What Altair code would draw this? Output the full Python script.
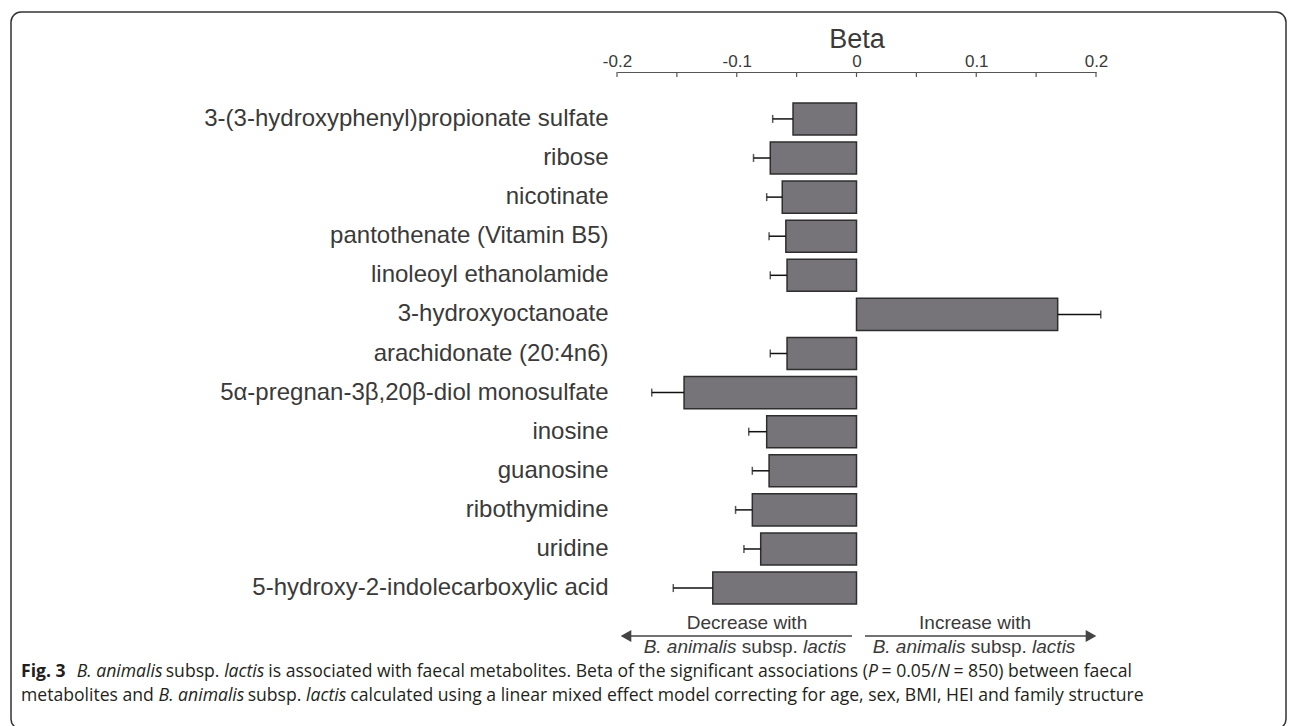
import altair as alt
import numpy as np
import pandas as pd

metabolites = [
    "3-(3-hydroxyphenyl)propionate sulfate",
    "ribose",
    "nicotinate",
    "pantothenate (Vitamin B5)",
    "linoleoyl ethanolamide",
    "3-hydroxyoctanoate",
    "arachidonate (20:4n6)",
    "5α-pregnan-3β,20β-diol monosulfate",
    "inosine",
    "guanosine",
    "ribothymidine",
    "uridine",
    "5-hydroxy-2-indolecarboxylic acid",
]
beta = [-0.053, -0.072, -0.062, -0.059, -0.058, 0.168, -0.058, -0.144, -0.075, -0.073, -0.087, -0.080, -0.120]
se = [0.017, 0.014, 0.013, 0.014, 0.014, 0.036, 0.014, 0.027, 0.015, 0.014, 0.014, 0.014, 0.033]
axis_labels = [-0.2, -0.1, 0.0, 0.1, 0.2]
axis_ticks = [-0.2, -0.15, -0.1, -0.05, 0.0, 0.05, 0.1, 0.15, 0.2]

df = pd.DataFrame({"metabolite": metabolites, "beta": beta, "se": se})
df["end"] = df["beta"] + np.sign(df["beta"]) * df["se"]
ticks_df = pd.DataFrame({"t": axis_ticks})
one = pd.DataFrame({"k": [0]})

FONT = "Liberation Sans"
CAP = "Open Sans"
TXT = "#3a3a3a"
xscale = alt.Scale(domain=[-0.2, 0.2], nice=False, zero=False)
yscale = alt.Scale(paddingInner=0.18, paddingOuter=0.79)
ysort = metabolites

xaxis = alt.Axis(orient="top", values=axis_labels, ticks=False, tickSize=0,
                 grid=False, domainColor="#555555", domainWidth=1.2,
                 labelFont=FONT, labelFontSize=17, labelColor=TXT, labelPadding=2,
                 labelExpr="datum.value == 0 ? '0' : replace(format(datum.value, '.1f'), '\u2212', '-')",
                 labelFlush=False,
                 titleFont=FONT, titleFontSize=27, titleFontWeight="normal",
                 titleColor=TXT, titleY=-25, titleBaseline="alphabetic")
yaxis = alt.Axis(domain=False, ticks=False, labelFont=FONT, labelFontSize=24,
                 labelColor=TXT, labelPadding=9, labelLimit=700)

bars = alt.Chart(df).mark_bar(
    fill="#767379", stroke="#2e2e2e", strokeWidth=1.5
).encode(
    x=alt.X("beta:Q", scale=xscale, axis=xaxis, title="Beta"),
    x2=alt.datum(0),
    y=alt.Y("metabolite:N", sort=ysort, scale=yscale, title=None, axis=yaxis),
)
err = alt.Chart(df).mark_rule(color="#111111", strokeWidth=1.5).encode(
    x=alt.X("beta:Q", scale=xscale, axis=xaxis, title="Beta"),
    x2="end:Q",
    y=alt.Y("metabolite:N", sort=ysort, scale=yscale, title=None, axis=yaxis),
)
caps = alt.Chart(df).mark_tick(color="#111111", thickness=1.5, size=8).encode(
    x=alt.X("end:Q", scale=xscale, axis=xaxis, title="Beta"),
    y=alt.Y("metabolite:N", sort=ysort, scale=yscale, title=None, axis=yaxis),
)
tickmarks = alt.Chart(ticks_df).mark_rule(color="#555555", strokeWidth=1.2).encode(
    x=alt.X("t:Q", scale=xscale, axis=xaxis, title="Beta"),
    y=alt.value(0),
    y2=alt.value(5),
)

# ---- approximate glyph advance widths (em) for placing mixed-style text runs ----
ARIAL = {" ": .278, ".": .278, ",": .278, "(": .333, ")": .333, "-": .333, "/": .278, "=": .584, ":": .278,
         "B": .667, "E": .667, "H": .722, "I": .278, "M": .833, "N": .722, "P": .667, "F": .611,
         "a": .556, "b": .556, "c": .5, "d": .556, "e": .556, "f": .278, "g": .556, "h": .556, "i": .222,
         "j": .222, "k": .5, "l": .222, "m": .833, "n": .556, "o": .556, "p": .556, "q": .556, "r": .333,
         "s": .5, "t": .278, "u": .556, "v": .5, "w": .722, "x": .5, "y": .5, "z": .5}
OPEN = {" ": .26, ".": .266, ",": .244, "(": .282, ")": .282, "-": .322, "/": .368, "=": .572, ":": .266,
        "B": .635, "E": .549, "H": .722, "I": .293, "M": .875, "N": .742, "P": .601, "F": .518,
        "a": .556, "b": .613, "c": .476, "d": .613, "e": .561, "f": .339, "g": .548, "h": .614, "i": .253,
        "j": .253, "k": .525, "l": .253, "m": .930, "n": .614, "o": .604, "p": .613, "q": .613, "r": .408,
        "s": .477, "t": .353, "u": .614, "v": .501, "w": .778, "x": .524, "y": .502, "z": .477}


def tw(s, table, size, factor=1.0):
    return sum(table.get(ch, 0.572) for ch in s) * size * factor


# plot origin is at page (617, 72)
OX, OY = 617, 72


def txt(s, px, py, size, font=FONT, style="normal", weight="normal", align="left", color=TXT):
    return alt.Chart(one).mark_text(
        text=s, font=font, fontSize=size, fontStyle=style, fontWeight=weight,
        align=align, baseline="middle", color=color,
    ).encode(x=alt.value(px - OX), y=alt.value(py - OY))


def run(segments, x0, py, size, font, table, color):
    """segments: list of (text, style, weight, gap_before_in_em)"""
    out = []
    x = x0
    for s, style, weight, gap in segments:
        x += gap * size
        f = 1.0
        if style == "italic":
            f = 0.95
        if weight == "bold":
            f = 1.06
        out.append(txt(s, x, py, size, font=font, style=style, weight=weight, color=color))
        x += tw(s, table, size, f)
    return out


layers = [bars, err, caps, tickmarks]

# direction arrows
ARW = "#444444"
AY = 636
layers.append(alt.Chart(one).mark_rule(color=ARW, strokeWidth=1.6).encode(
    x=alt.value(624 - OX), x2=alt.value(852 - OX), y=alt.value(AY - OY)))
layers.append(alt.Chart(one).mark_rule(color=ARW, strokeWidth=1.6).encode(
    x=alt.value(865 - OX), x2=alt.value(1092 - OX), y=alt.value(AY - OY)))
layers.append(alt.Chart(one).mark_point(shape="triangle-left", filled=True, size=150, color=ARW, opacity=1).encode(
    x=alt.value(626 - OX), y=alt.value(AY - OY)))
layers.append(alt.Chart(one).mark_point(shape="triangle-right", filled=True, size=150, color=ARW, opacity=1).encode(
    x=alt.value(1091 - OX), y=alt.value(AY - OY)))

AS = 19
layers.append(txt("Decrease with", 747, 623, AS, align="center"))
layers.append(txt("Increase with", 975, 623, AS, align="center"))
arrow_seg = [("B. animalis", "italic", "normal", 0), ("subsp.", "normal", "normal", .278), ("lactis", "italic", "normal", .278)]
total = sum(tw(s, ARIAL, AS) for s, _, _, _ in arrow_seg) + 2 * .278 * AS
for cx in (745, 974):
    x = cx - total / 2
    for s, style, weight, gap in arrow_seg:
        x += gap * AS
        layers.append(txt(s, x, 647, AS, style=style))
        x += tw(s, ARIAL, AS)

# caption
CC = "#231f20"
CS = 17.6
line1 = [
    ("Fig. 3", "normal", "bold", 0),
    ("B. animalis", "italic", "normal", 0.6),
    ("subsp.", "normal", "normal", .26),
    ("lactis", "italic", "normal", .26),
    ("is associated with faecal metabolites. Beta of the significant associations (", "normal", "normal", .26),
    ("P", "italic", "normal", 0),
    ("= 0.05/", "normal", "normal", .2),
    ("N", "italic", "normal", 0),
    ("= 850) between faecal", "normal", "normal", .2),
]
line2 = [
    ("metabolites and", "normal", "normal", 0),
    ("B. animalis", "italic", "normal", .26),
    ("subsp.", "normal", "normal", .26),
    ("lactis", "italic", "normal", .26),
    ("calculated using a linear mixed effect model correcting for age, sex, BMI, HEI and family structure", "normal", "normal", .26),
]
layers += run(line1, 21, 672, CS, CAP, OPEN, CC)
layers += run(line2, 21, 696, CS, CAP, OPEN, CC)

# rounded frame
layers.append(alt.Chart(one).mark_rect(
    filled=False, stroke="#333333", strokeWidth=1.5, cornerRadius=10
).encode(
    x=alt.value(11 - OX), x2=alt.value(1286 - OX), y=alt.value(12 - OY), y2=alt.value(729 - OY)
))

W, H = 479, 563
PL, PT = OX - 8, OY - 8
chart = alt.layer(*layers).properties(
    width=W, height=H,
    autosize=alt.AutoSizeParams(type="none"),
    padding={"left": PL, "top": PT, "right": 1280 - PL - W, "bottom": 718 - PT - H},
    background="white",
).configure_view(strokeWidth=0)

chart.save("out.html", embed_options={"renderer": "svg", "actions": False})
